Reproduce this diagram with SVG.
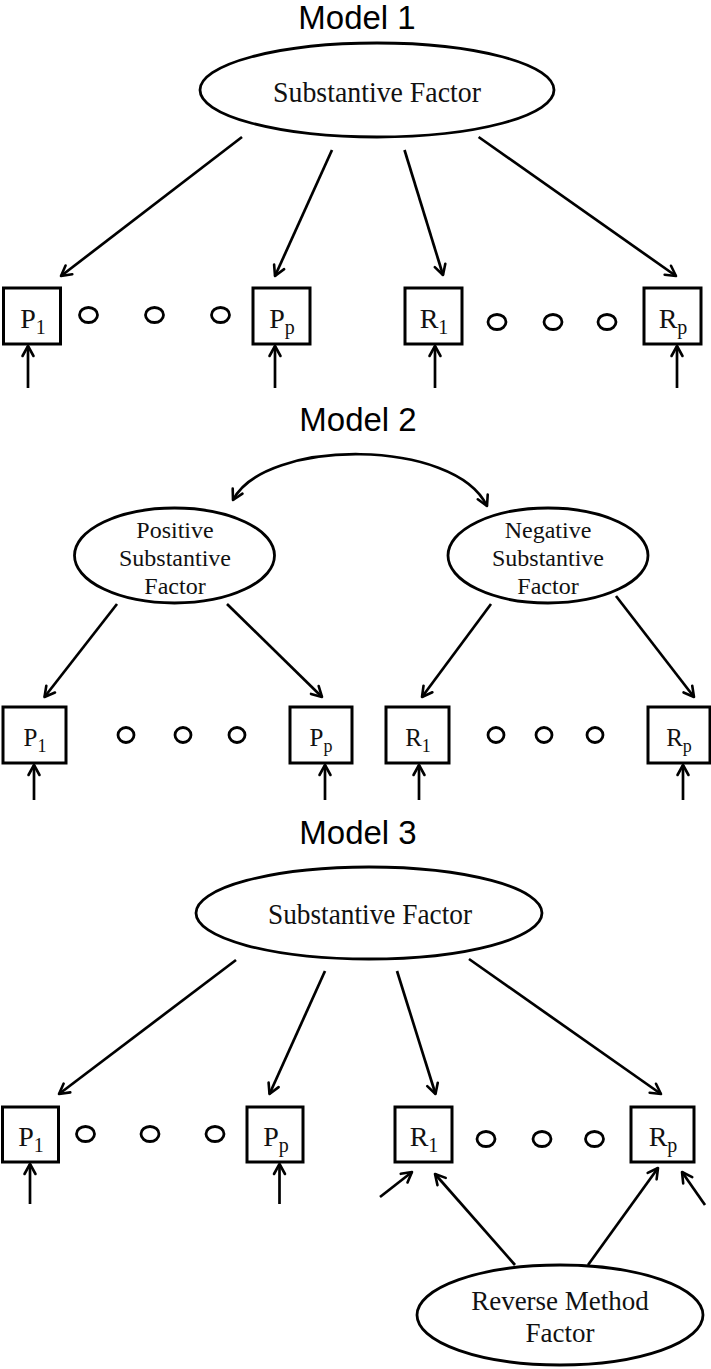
<svg xmlns="http://www.w3.org/2000/svg" width="711" height="1369" viewBox="0 0 711 1369">
<style>
.title{font-family:"Liberation Sans",Arial,sans-serif;font-size:33px;fill:#000;text-anchor:middle}
.lbl{font-family:"Liberation Serif","Times New Roman",serif;fill:#111;text-anchor:middle}
.big{font-size:29px}
.mid{font-size:24px}
.box{fill:#fff;stroke:#000;stroke-width:3}
.ell{fill:#fff;stroke:#000;stroke-width:2.8}
.dot{fill:none;stroke:#000;stroke-width:2.8}
.con line,.con path{fill:none;stroke:#000;stroke-width:2.7;marker-end:url(#ah)}
.mainl{font-size:28px}
.sub{font-size:20px}
.main2{font-size:25px}
.sub2{font-size:18px}
</style>
<defs>
<marker id="ah" viewBox="-13 -8 15 16" refX="0" refY="0" markerWidth="15" markerHeight="16" markerUnits="userSpaceOnUse" orient="auto-start-reverse">
<path d="M-10,-5.5 L0,0 L-10,5.5" fill="none" stroke="#000" stroke-width="2.6" stroke-linecap="round" stroke-linejoin="round"/>
</marker>
</defs>
<rect width="711" height="1369" fill="#fff"/>

<!-- Model 1 -->
<text class="title" x="357" y="29">Model 1</text>
<g id="m1-sf"><ellipse class="ell" cx="377" cy="90" rx="177" ry="47"/><text class="lbl big" x="377" y="102" textLength="208" lengthAdjust="spacingAndGlyphs">Substantive Factor</text></g>
<g id="m1-p1"><rect class="box" x="3.5" y="288" width="57" height="56"/><text class="lbl" x="33" y="328"><tspan class="mainl">P</tspan><tspan class="sub" dy="6">1</tspan></text></g>
<g id="m1-pp"><rect class="box" x="253" y="288" width="57" height="56"/><text class="lbl" x="282" y="328"><tspan class="mainl">P</tspan><tspan class="sub" dy="6">p</tspan></text></g>
<g id="m1-r1"><rect class="box" x="405" y="288" width="57" height="56"/><text class="lbl" x="434" y="328"><tspan class="mainl">R</tspan><tspan class="sub" dy="6">1</tspan></text></g>
<g id="m1-rp"><rect class="box" x="644" y="288" width="57" height="56"/><text class="lbl" x="673" y="328"><tspan class="mainl">R</tspan><tspan class="sub" dy="6">p</tspan></text></g>
<g id="m1-dots"><ellipse class="dot" cx="88.5" cy="315" rx="9" ry="7.5"/><ellipse class="dot" cx="154.5" cy="315" rx="9" ry="7.5"/><ellipse class="dot" cx="220.5" cy="315" rx="9" ry="7.5"/><ellipse class="dot" cx="497" cy="322" rx="9" ry="7.5"/><ellipse class="dot" cx="553" cy="322" rx="9" ry="7.5"/><ellipse class="dot" cx="607" cy="322" rx="9" ry="7.5"/></g>
<g id="m1-connectors" class="con">
<line x1="242" y1="137" x2="61" y2="276"/>
<line x1="332" y1="150" x2="275" y2="276"/>
<line x1="404.5" y1="150" x2="443" y2="275"/>
<line x1="478.6" y1="137" x2="676" y2="276"/>
<line x1="28" y1="388" x2="28" y2="346"/>
<line x1="275" y1="388" x2="275" y2="346"/>
<line x1="435" y1="388" x2="435" y2="346"/>
<line x1="677" y1="388" x2="677" y2="346"/>
</g>

<!-- Model 2 -->
<text class="title" x="358" y="431">Model 2</text>
<g id="m2-pos"><ellipse class="ell" cx="174.5" cy="555.5" rx="100" ry="47.5"/><text class="lbl mid" x="175" y="538">Positive</text><text class="lbl mid" x="175" y="566">Substantive</text><text class="lbl mid" x="175" y="594">Factor</text></g>
<g id="m2-neg"><ellipse class="ell" cx="548" cy="555.5" rx="100" ry="47.5"/><text class="lbl mid" x="548" y="538">Negative</text><text class="lbl mid" x="548" y="566">Substantive</text><text class="lbl mid" x="548" y="594">Factor</text></g>
<g id="m2-p1"><rect class="box" x="3" y="707" width="63" height="56"/><text class="lbl" x="35" y="746"><tspan class="main2">P</tspan><tspan class="sub2" dy="6">1</tspan></text></g>
<g id="m2-pp"><rect class="box" x="290" y="707" width="62" height="56"/><text class="lbl" x="321" y="746"><tspan class="main2">P</tspan><tspan class="sub2" dy="6">p</tspan></text></g>
<g id="m2-r1"><rect class="box" x="386" y="707" width="63" height="56"/><text class="lbl" x="418" y="746"><tspan class="main2">R</tspan><tspan class="sub2" dy="6">1</tspan></text></g>
<g id="m2-rp"><rect class="box" x="648" y="707" width="62" height="56"/><text class="lbl" x="679" y="746"><tspan class="main2">R</tspan><tspan class="sub2" dy="6">p</tspan></text></g>
<g id="m2-dots"><ellipse class="dot" cx="126" cy="735" rx="8" ry="7.5"/><ellipse class="dot" cx="183" cy="735" rx="8" ry="7.5"/><ellipse class="dot" cx="237" cy="735" rx="8" ry="7.5"/><ellipse class="dot" cx="496" cy="735" rx="8" ry="7.5"/><ellipse class="dot" cx="544" cy="735" rx="8" ry="7.5"/><ellipse class="dot" cx="595" cy="735" rx="8" ry="7.5"/></g>
<g id="m2-connectors" class="con">
<path d="M233,500 C265,438 455,438 487,506" style="marker-start:url(#ah)"/>
<line x1="117" y1="604" x2="44.5" y2="697"/>
<line x1="227" y1="604" x2="322" y2="697"/>
<line x1="491" y1="604" x2="422" y2="697"/>
<line x1="616" y1="596" x2="694" y2="697"/>
<line x1="34" y1="800" x2="34" y2="765"/>
<line x1="325" y1="800" x2="325" y2="765"/>
<line x1="419" y1="800" x2="419" y2="765"/>
<line x1="683" y1="800" x2="683" y2="765"/>
</g>

<!-- Model 3 -->
<text class="title" x="358" y="844">Model 3</text>
<g id="m3-sf"><ellipse class="ell" cx="369" cy="913" rx="173" ry="46"/><text class="lbl big" x="370" y="924" textLength="204" lengthAdjust="spacingAndGlyphs">Substantive Factor</text></g>
<g id="m3-p1"><rect class="box" x="2.5" y="1107" width="56" height="55"/><text class="lbl" x="31" y="1146"><tspan class="mainl">P</tspan><tspan class="sub" dy="6">1</tspan></text></g>
<g id="m3-pp"><rect class="box" x="247" y="1107" width="56" height="55"/><text class="lbl" x="276" y="1146"><tspan class="mainl">P</tspan><tspan class="sub" dy="6">p</tspan></text></g>
<g id="m3-r1"><rect class="box" x="395" y="1107" width="57" height="55"/><text class="lbl" x="424" y="1146"><tspan class="mainl">R</tspan><tspan class="sub" dy="6">1</tspan></text></g>
<g id="m3-rp"><rect class="box" x="631" y="1107" width="63" height="55"/><text class="lbl" x="663" y="1146"><tspan class="mainl">R</tspan><tspan class="sub" dy="6">p</tspan></text></g>
<g id="m3-dots"><ellipse class="dot" cx="85.5" cy="1134" rx="9" ry="7.5"/><ellipse class="dot" cx="150" cy="1134" rx="9" ry="7.5"/><ellipse class="dot" cx="215" cy="1134" rx="9" ry="7.5"/><ellipse class="dot" cx="486" cy="1139" rx="9" ry="7.5"/><ellipse class="dot" cx="542" cy="1139" rx="9" ry="7.5"/><ellipse class="dot" cx="594.5" cy="1139" rx="9" ry="7.5"/></g>
<g id="m3-rmf"><ellipse class="ell" cx="560" cy="1315" rx="143" ry="50"/><text class="lbl" font-size="27" x="560" y="1310">Reverse Method</text><text class="lbl" font-size="27" x="560" y="1342">Factor</text></g>
<g id="m3-connectors" class="con">
<line x1="236" y1="960" x2="59" y2="1094"/>
<line x1="325" y1="971" x2="269.5" y2="1094"/>
<line x1="397" y1="971" x2="435.5" y2="1094"/>
<line x1="469" y1="959" x2="661" y2="1094"/>
<line x1="30" y1="1204" x2="30" y2="1164"/>
<line x1="279.5" y1="1204" x2="279.5" y2="1164"/>
<line x1="380" y1="1197" x2="412" y2="1172"/>
<line x1="705" y1="1205" x2="682" y2="1172"/>
<line x1="515" y1="1265" x2="435" y2="1174"/>
<line x1="588" y1="1265" x2="658" y2="1168"/>
</g>
</svg>
